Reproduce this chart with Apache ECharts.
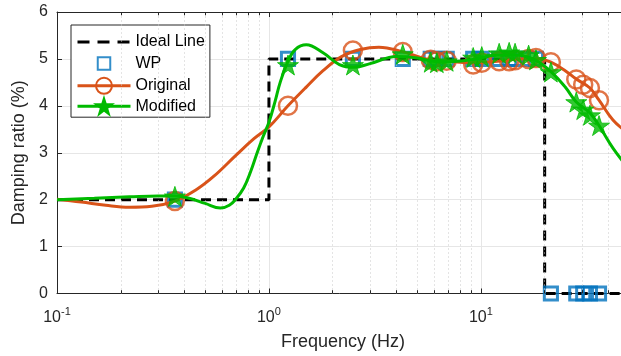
<!DOCTYPE html>
<html>
<head>
<meta charset="utf-8">
<script src="https://cdn.jsdelivr.net/npm/echarts@6/dist/echarts.min.js"></script>
<style>
html,body{margin:0;padding:0;background:#fff;}
#chart{width:621px;height:356px;}
</style>
</head>
<body>
<div id="chart"></div>
<script>
// ---- data ----
const idealFreq = [0.1, 1, 1, 20, 20, 50];
const idealVal  = [2, 2, 5, 5, 0, 0];

const markFreq = [0.36, 1.23, 2.49, 4.28, 5.8, 6.2, 6.9, 9.2, 10.1, 12.2, 13.6, 14.5, 16.8, 18.2, 21.4, 28.2, 30.4, 32.7, 36.1];
const wpVal    = [2.0, 5.0, 5.0, 5.0, 5.0, 5.0, 5.0, 5.0, 5.0, 5.0, 5.0, 5.0, 5.0, 5.0, 0, 0, 0, 0, 0];
const origVal  = [1.97, 4.0, 5.18, 5.15, 4.98, 4.95, 4.96, 4.88, 4.92, 4.95, 4.95, 4.97, 5.0, 5.02, 4.93, 4.56, 4.45, 4.38, 4.12];
const modVal   = [2.07, 4.87, 4.87, 5.1, 4.93, 4.92, 4.95, 5.03, 5.05, 5.12, 5.14, 5.12, 5.08, 4.98, 4.72, 4.08, 3.92, 3.8, 3.58];

const origCurveFreq = [0.1, 0.13, 0.17, 0.22, 0.28, 0.36, 0.45, 0.55, 0.7, 0.85, 1.0, 1.23, 1.5, 1.8, 2.2, 2.7, 3.3, 4.3, 5.5, 7, 9, 12, 16, 19, 21.4, 25, 28.2, 32.7, 36.1, 42, 50];
const origCurveVal  = [2.01, 1.95, 1.88, 1.84, 1.86, 1.97, 2.2, 2.5, 2.95, 3.3, 3.55, 4.0, 4.4, 4.75, 5.05, 5.2, 5.25, 5.15, 5.0, 4.95, 4.92, 4.95, 5.0, 5.0, 4.93, 4.75, 4.57, 4.38, 4.12, 3.7, 3.4];

const modCurveFreq = [0.1, 0.15, 0.22, 0.3, 0.36, 0.42, 0.5, 0.59, 0.65, 0.7, 0.76, 0.82, 0.88, 0.94, 1.0, 1.07, 1.13, 1.23, 1.33, 1.5, 1.8, 2.15, 2.5, 3.0, 4.0, 5.0, 6.5, 9.0, 12, 15, 18, 21.4, 25, 28.2, 32.7, 36.1, 42, 50];
const modCurveVal  = [2.0, 2.03, 2.06, 2.08, 2.08, 2.03, 1.92, 1.82, 1.88, 2.02, 2.25, 2.6, 3.0, 3.35, 3.65, 4.1, 4.5, 4.95, 5.2, 5.3, 5.13, 4.88, 4.82, 4.9, 5.05, 5.02, 4.93, 4.98, 5.08, 5.08, 4.98, 4.73, 4.4, 4.08, 3.85, 3.58, 3.1, 2.65];

const decades = [0.1, 1, 10];
const yTicks = [0, 1, 2, 3, 4, 5, 6];

// ---- build ----
const zip = (a, b) => a.map((x, i) => [x, b[i]]);
const FONT = '"Liberation Sans", Arial, Helvetica, sans-serif';
const TXT = '#262626';
const ORANGE = '#D95319', GREEN = '#00BA00', BLUE = '#0072BD';
const STAR = 'path://M100,0 L122.45,69.1 L195.1,69.1 L136.3,111.8 L158.8,180.9 L100,138.2 L41.2,180.9 L63.7,111.8 L4.9,69.1 L77.55,69.1 Z';
// square with invisible margin so the legend icon stays small
const SQUARE = 'path://M-3,-3 M0,0 L10,0 L10,10 L0,10 Z M13,13';

const minorX = [];
decades.forEach(d => { for (let k = 2; k <= 9; k++) { const v = +(d * k).toPrecision(3); if (v < 50) minorX.push(v); } });

const minorGrid = minorX.map(v => ({ xAxis: v }));
const minorTicks = [];
minorX.forEach(v => {
  minorTicks.push([{ coord: [v, 0] }, { coord: [v, 0.07] }]);
  minorTicks.push([{ coord: [v, 6] }, { coord: [v, 5.93] }]);
});

const isDecade = v => decades.some(d => Math.abs(v / d - 1) < 1e-6);

const chart = echarts.init(document.getElementById('chart'), null, { renderer: 'canvas' });
chart.setOption({
  animation: false,
  textStyle: { fontFamily: FONT },
  grid: { left: 57, top: 12, right: -8, bottom: 62.5, containLabel: false, outerBoundsMode: 'none' },
  legend: {
    orient: 'vertical', left: 71, top: 25,
    data: [
      { name: 'Ideal Line', itemStyle: { opacity: 0 }, lineStyle: { width: 3, type: [12, 8], color: '#000' } },
      'WP',
      { name: 'Original', lineStyle: { width: 3, color: ORANGE } },
      { name: 'Modified', lineStyle: { width: 3, color: GREEN } }
    ],
    backgroundColor: '#fff', borderColor: TXT, borderWidth: 1,
    padding: [9, 5, 2, 5],
    itemWidth: 53, itemHeight: 20, itemGap: 2.4,
    textStyle: { fontSize: 16, color: '#000', fontFamily: FONT },
    selectedMode: false
  },
  xAxis: [{
    type: 'log', logBase: 10, min: 0.1, max: 50,
    name: 'Frequency (Hz)', nameLocation: 'middle', nameGap: 40,
    nameTextStyle: { fontSize: 18, color: TXT, fontFamily: FONT },
    axisLine: { show: true, lineStyle: { color: TXT, width: 1 } },
    axisTick: { show: true, inside: true, length: 5, lineStyle: { color: TXT } },
    axisLabel: {
      margin: 13, color: TXT, showMaxLabel: false,
      formatter: v => isDecade(v) ? '{b|10}{s|' + Math.round(Math.log10(v)) + '}' : '',
      rich: {
        b: { fontSize: 16, color: TXT, fontFamily: FONT, verticalAlign: 'bottom' },
        s: { fontSize: 11, color: TXT, fontFamily: FONT, verticalAlign: 'bottom', padding: [0, 0, 8, 0] }
      }
    },
    splitLine: { show: true, lineStyle: { color: '#e6e6e6', width: 1 } }
  }, {
    type: 'log', logBase: 10, min: 0.1, max: 50, position: 'top',
    axisLine: { show: true, lineStyle: { color: TXT, width: 1 } },
    axisTick: { show: true, inside: true, length: 5, lineStyle: { color: TXT } },
    axisLabel: { show: false }, splitLine: { show: false }
  }],
  yAxis: {
    type: 'value', min: 0, max: 6, interval: 1,
    name: 'Damping ratio (%)', nameLocation: 'middle', nameGap: 23,
    nameTextStyle: { fontSize: 18, color: TXT, fontFamily: FONT },
    axisLine: { show: true, lineStyle: { color: TXT, width: 1 } },
    axisTick: { show: true, inside: true, length: 5, lineStyle: { color: TXT } },
    axisLabel: { fontSize: 16, color: TXT, margin: 9, fontFamily: FONT,
      formatter: v => yTicks.indexOf(v) >= 0 ? String(v) : '' },
    splitLine: { show: true, lineStyle: { color: '#e6e6e6', width: 1 } }
  },
  series: [
    {
      name: 'minor', type: 'line', data: [], silent: true, z: 1,
      markLine: {
        silent: true, symbol: 'none', label: { show: false }, animation: false,
        lineStyle: { color: '#c8c8c8', type: [1, 3], width: 1 },
        data: minorGrid
      }
    },
    {
      name: 'minorTicks', type: 'line', data: [], silent: true, z: 1,
      markLine: {
        silent: true, symbol: 'none', label: { show: false }, animation: false,
        lineStyle: { color: TXT, type: 'solid', width: 1 },
        data: minorTicks
      }
    },
    {
      name: 'Ideal Line', type: 'line', data: zip(idealFreq, idealVal), symbol: 'none',
      lineStyle: { color: '#000', width: 3, type: [10, 6] }, itemStyle: { color: '#000' }, z: 3
    },
    {
      name: 'WP', type: 'scatter', data: zip(markFreq, wpVal), symbol: SQUARE, symbolSize: 21, symbolKeepAspect: true,
      itemStyle: { color: 'rgba(0,0,0,0)', borderColor: BLUE, borderWidth: 3 }, z: 4
    },
    {
      name: 'Original', type: 'line', data: zip(origCurveFreq, origCurveVal), smooth: 0.4,
      symbol: 'circle', symbolSize: 17, showSymbol: false,
      lineStyle: { color: ORANGE, width: 3 },
      itemStyle: { color: 'rgba(0,0,0,0)', borderColor: ORANGE, borderWidth: 2.5 }, z: 5
    },
    {
      name: 'Original', type: 'scatter', data: zip(markFreq, origVal),
      symbol: 'circle', symbolSize: 18,
      itemStyle: { color: 'rgba(0,0,0,0)', borderColor: ORANGE, borderWidth: 2.5 }, z: 5
    },
    {
      name: 'Modified', type: 'line', data: zip(modCurveFreq, modCurveVal), smooth: 0.4,
      symbol: STAR, symbolSize: 20, symbolKeepAspect: true, showSymbol: false,
      lineStyle: { color: GREEN, width: 3 },
      itemStyle: { color: GREEN, borderColor: GREEN, borderWidth: 1 }, z: 6
    },
    {
      name: 'Modified', type: 'scatter', data: zip(markFreq, modVal),
      symbol: STAR, symbolSize: 21, symbolKeepAspect: true,
      itemStyle: { color: GREEN, borderColor: GREEN, borderWidth: 1 }, z: 6
    }
  ]
});
</script>
</body>
</html>
